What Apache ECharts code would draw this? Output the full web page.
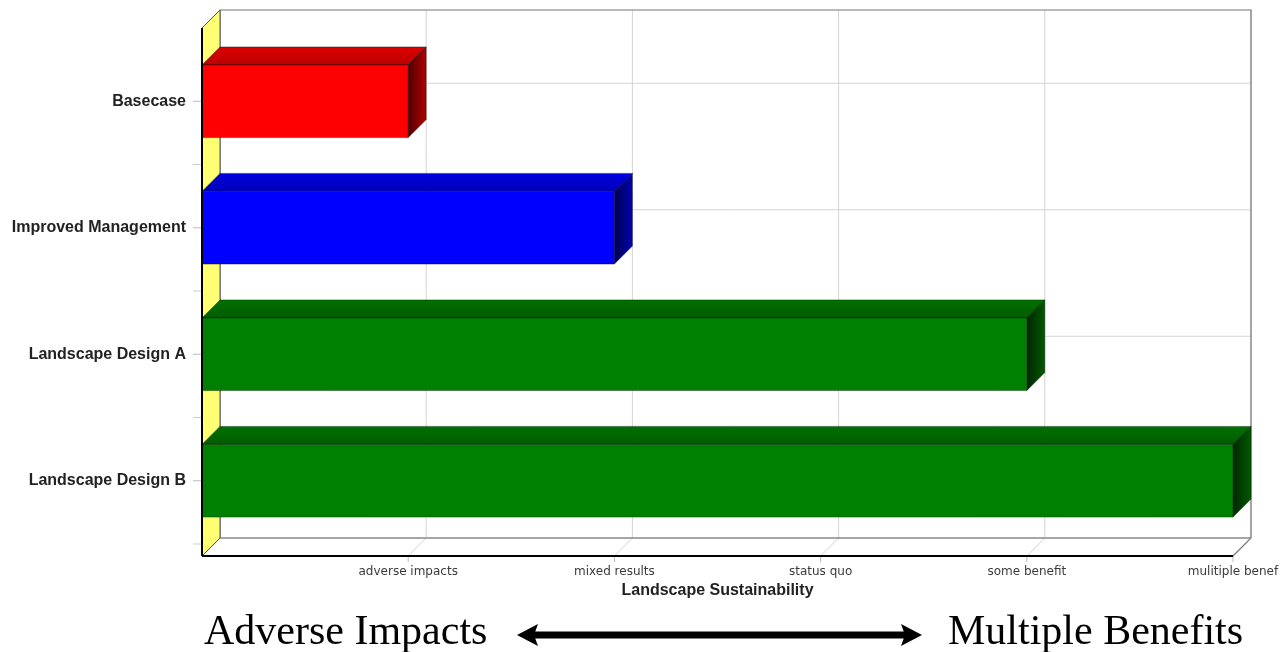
<!DOCTYPE html>
<html>
<head>
<meta charset="utf-8">
<script src="https://cdn.jsdelivr.net/npm/echarts@6/dist/echarts.min.js"></script>
<style>
  html, body { margin: 0; padding: 0; background: #ffffff; }
  #chart { width: 1287px; height: 652px; }
</style>
</head>
<body>
<div id="chart"></div>
<script>
// Scenario scores on the landscape sustainability scale
const categories = ['Basecase', 'Improved Management', 'Landscape Design A', 'Landscape Design B'];
const scores = [1, 2, 4, 5];
const tickLabels = ['', 'adverse impacts', 'mixed results', 'status quo', 'some benefit', 'mulitiple benef'];
const barColors = ['#ff0000', '#0000ff', '#008000', '#008000'];

// pseudo-3D depth offset of the chart box
const DX = 18, DY = 18;

function shade(hex, f) {
  const n = parseInt(hex.slice(1), 16);
  const r = Math.round(((n >> 16) & 255) * f);
  const g = Math.round(((n >> 8) & 255) * f);
  const b = Math.round((n & 255) * f);
  return 'rgb(' + r + ',' + g + ',' + b + ')';
}

const chart = echarts.init(document.getElementById('chart'), null, { renderer: 'canvas' });

// walls, floor and gridlines behind the bars
function renderBox(params, api) {
  const cs = params.coordSys;
  const x0 = cs.x, x1 = cs.x + cs.width;
  const yBottom = cs.y + cs.height + 12;   // front edge of the floor
  const yTop = cs.y - 10;                  // front top of the side wall
  const kids = [];
  // back wall
  kids.push({ type: 'rect', shape: { x: x0 + DX, y: yTop - DY, width: cs.width, height: yBottom - yTop },
    style: { fill: '#ffffff', stroke: null } });
  // vertical gridlines on back wall + floor
  for (let v = 1; v <= 5; v++) {
    const px = api.coord([v, 0])[0];
    kids.push({ type: 'line', shape: { x1: px + DX, y1: yTop - DY, x2: px + DX, y2: yBottom - DY },
      style: { stroke: '#d4d4d4', lineWidth: 1 } });
    kids.push({ type: 'line', shape: { x1: px + DX, y1: yBottom - DY, x2: px, y2: yBottom },
      style: { stroke: '#d4d4d4', lineWidth: 1 } });
    kids.push({ type: 'line', shape: { x1: px, y1: yBottom, x2: px, y2: yBottom + 6 },
      style: { stroke: '#bbbbbb', lineWidth: 1 } });
  }
  // horizontal gridlines on back wall at category centres
  for (let i = 0; i < categories.length; i++) {
    const py = api.coord([0, i])[1];
    kids.push({ type: 'line', shape: { x1: x0 + DX, y1: py - DY, x2: x1 + DX, y2: py - DY },
      style: { stroke: '#d4d4d4', lineWidth: 1 } });
  }
  // back wall outline
  kids.push({ type: 'polyline', shape: { points: [[x0 + DX, yBottom - DY], [x0 + DX, yTop - DY], [x1 + DX, yTop - DY], [x1 + DX, yBottom - DY], [x1, yBottom]] },
    style: { stroke: '#777777', lineWidth: 1.2, fill: null } });
  // floor back edge
  kids.push({ type: 'line', shape: { x1: x0 + DX, y1: yBottom - DY, x2: x1 + DX, y2: yBottom - DY },
    style: { stroke: '#888888', lineWidth: 1.5 } });
  // yellow side wall
  kids.push({ type: 'polygon', shape: { points: [[x0, yTop], [x0 + DX, yTop - DY], [x0 + DX, yBottom - DY], [x0, yBottom]] },
    style: { fill: '#ffff73', stroke: '#555555', lineWidth: 1 } });
  // y-axis ticks at category centres and band boundaries
  const band = api.size([0, 1])[1];
  for (let i = 0; i < categories.length; i++) {
    const py = api.coord([0, i])[1];
    kids.push({ type: 'line', shape: { x1: x0 - 9, y1: py, x2: x0, y2: py }, style: { stroke: '#bbbbbb', lineWidth: 1 } });
    kids.push({ type: 'line', shape: { x1: x0 - 9, y1: py + band / 2, x2: x0, y2: py + band / 2 }, style: { stroke: '#cccccc', lineWidth: 1 } });
  }
  return { type: 'group', children: kids };
}

// one 3D bar per scenario
function renderBar(params, api) {
  const i = api.value(0);
  const v = api.value(1);
  const start = api.coord([0, i]);
  const end = api.coord([v, i]);
  const h = api.size([0, 1])[1] * 0.575;
  const xa = start[0], xb = end[0];
  const yt = start[1] - h / 2, yb = start[1] + h / 2;
  const c = barColors[params.dataIndex];
  const edge = 'rgba(0,0,0,0.45)';
  return {
    type: 'group',
    children: [
      { type: 'polygon', shape: { points: [[xa, yt], [xb, yt], [xb + DX, yt - DY], [xa + DX, yt - DY]] },
        style: { fill: new echarts.graphic.LinearGradient(0, 0, 0, 1, [
            { offset: 0, color: shade(c, 0.88) }, { offset: 1, color: shade(c, 0.72) }]),
          stroke: edge, lineWidth: 0.8 } },
      { type: 'polygon', shape: { points: [[xb, yt], [xb + DX, yt - DY], [xb + DX, yb - DY], [xb, yb]] },
        style: { fill: new echarts.graphic.LinearGradient(0, 0, 1, 0, [
            { offset: 0, color: shade(c, 0.3) }, { offset: 1, color: shade(c, 0.7) }]),
          stroke: edge, lineWidth: 0.8 } },
      { type: 'rect', shape: { x: xa, y: yt, width: xb - xa, height: h },
        style: { fill: c, stroke: edge, lineWidth: 0.8 } }
    ]
  };
}

// front axis lines drawn over everything
function renderFrame(params, api) {
  const cs = params.coordSys;
  const yBottom = cs.y + cs.height + 12;
  const yTop = cs.y - 10;
  return {
    type: 'group',
    children: [
      { type: 'line', shape: { x1: cs.x, y1: yTop, x2: cs.x, y2: yBottom }, style: { stroke: '#000000', lineWidth: 2 } },
      { type: 'line', shape: { x1: cs.x, y1: yBottom, x2: cs.x + cs.width, y2: yBottom }, style: { stroke: '#000000', lineWidth: 2 } }
    ]
  };
}

const option = {
  animation: false,
  backgroundColor: '#ffffff',
  grid: { left: 202, right: 54, top: 38, bottom: 108, containLabel: false },
  xAxis: {
    type: 'value', min: 0, max: 5, interval: 1,
    name: 'Landscape Sustainability', nameLocation: 'middle', nameGap: 38,
    nameTextStyle: { fontFamily: 'Liberation Sans', fontWeight: 'bold', fontSize: 16, color: '#222222' },
    axisLine: { show: false }, axisTick: { show: false }, splitLine: { show: false },
    axisLabel: {
      margin: 22, fontFamily: 'DejaVu Sans', fontSize: 12, color: '#3a3a3a',
      formatter: function (val) { return tickLabels[Math.round(val)] || ''; }
    }
  },
  yAxis: {
    type: 'category', data: categories, inverse: true,
    axisLine: { show: false }, axisTick: { show: false }, splitLine: { show: false },
    axisLabel: { margin: 16, fontFamily: 'Liberation Sans', fontWeight: 'bold', fontSize: 16, color: '#222222' }
  },
  series: [
    { type: 'custom', name: 'box', renderItem: renderBox, data: [[0, 0]], z: 1, silent: true },
    { type: 'custom', name: 'scores', renderItem: renderBar, encode: { x: 1, y: 0 },
      data: scores.map(function (s, i) { return [i, s]; }), z: 2 },
    { type: 'custom', name: 'frame', renderItem: renderFrame, data: [[0, 0]], z: 3, silent: true }
  ],
  graphic: [
    { type: 'text', x: 204, y: 633, style: { text: 'Adverse Impacts', font: '42px "Liberation Serif"', fill: '#000000', verticalAlign: 'middle' } },
    { type: 'text', x: 948, y: 633, style: { text: 'Multiple Benefits', font: '42px "Liberation Serif"', fill: '#000000', verticalAlign: 'middle' } },
    { type: 'group', x: 517, y: 624, children: [
      { type: 'rect', shape: { x: 16, y: 7.5, width: 374, height: 7 }, style: { fill: '#000000' } },
      { type: 'polygon', shape: { points: [[0, 11], [21, 0], [17, 11], [21, 22]] }, style: { fill: '#000000' } },
      { type: 'polygon', shape: { points: [[405, 11], [384, 0], [388, 11], [384, 22]] }, style: { fill: '#000000' } }
    ] }
  ]
};

chart.setOption(option);
</script>
</body>
</html>
